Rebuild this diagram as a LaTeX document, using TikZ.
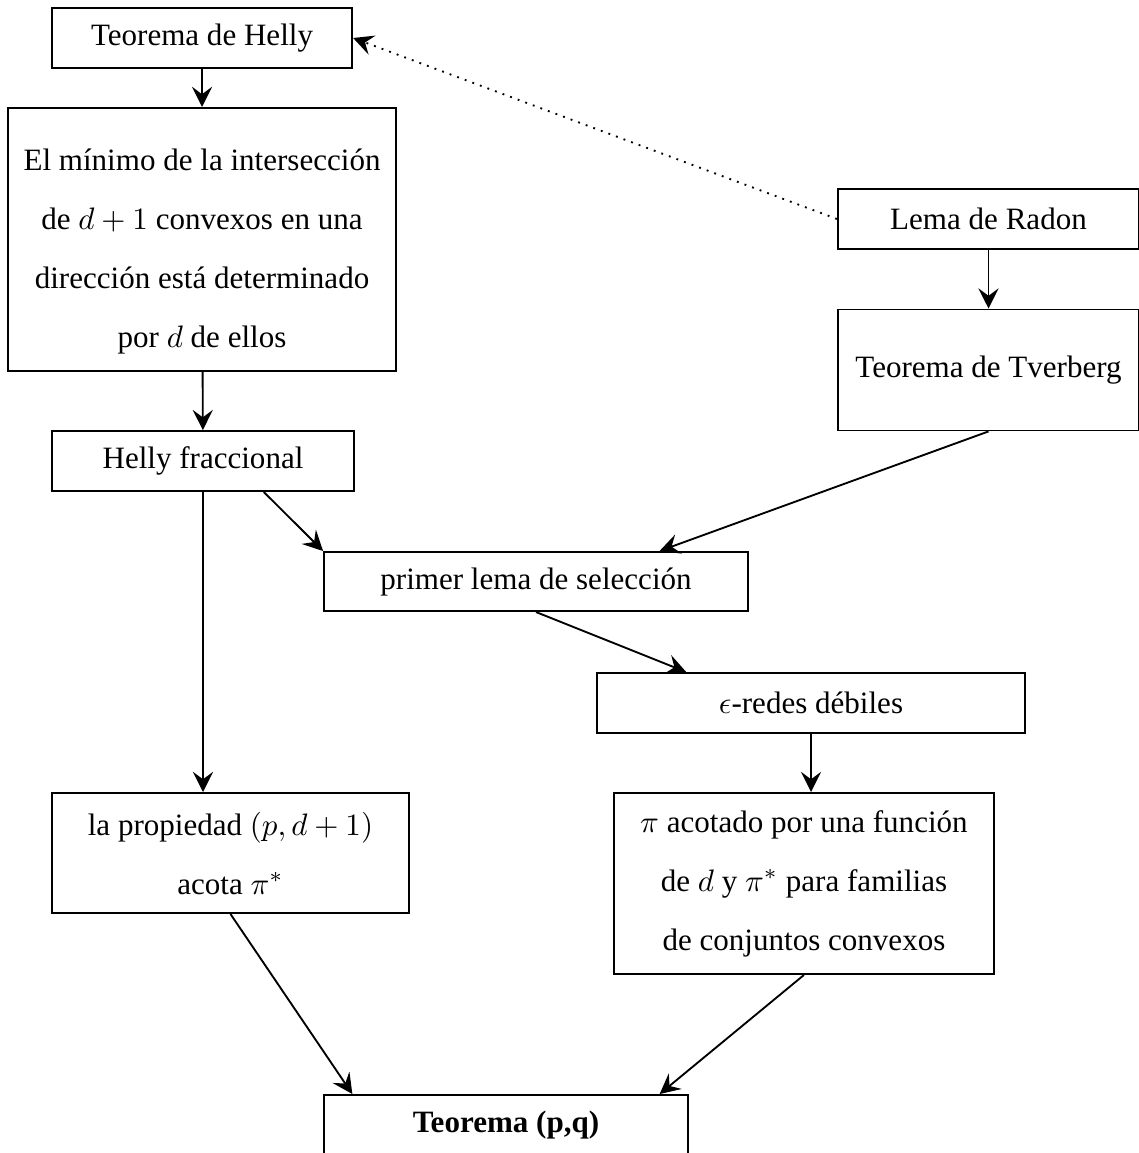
\documentclass[tikz,border=0pt]{standalone}
\usepackage[no-math]{fontspec}
\setmainfont{Liberation Serif}
\usepackage{amsmath, amssymb}
\usetikzlibrary{calc, arrows.meta}

\begin{document}
\begin{tikzpicture}[line width=0.6pt,
  box/.style={draw, rectangle, align=center, font=\fontsize{10pt}{19pt}\selectfont},
  >={Stealth[length=6.5pt, width=6.5pt, inset=2.4pt]}]
\useasboundingbox (0,0) rectangle (12.893,-13.052);
% Left column
\node[box, minimum width=3.40cm, minimum height=0.68cm] (H) at (2.287,-0.430) {Teorema de Helly};
\node[box, minimum width=4.39cm, minimum height=2.98cm] (MIN) at (2.287,-2.711) {\rule{0pt}{15pt}El mínimo de la intersección\\ de $d+1$ convexos en una\\ dirección está determinado\\ por $d$ de ellos};
\node[box, minimum width=3.42cm, minimum height=0.68cm] (HF) at (2.298,-5.219) {Helly fraccional};
\node[box, minimum width=4.04cm, minimum height=1.36cm] (PROP) at (2.609,-9.656) {la propiedad $(p,d+1)$\\ acota $\pi^*$};

% Right column
\node[box, minimum width=3.41cm, minimum height=0.67cm] (R) at (11.19,-2.479) {Lema de Radon};
\node[box, minimum width=3.41cm, minimum height=1.37cm] (TV) at (11.19,-4.188) {Teorema de Tverberg};
\node[box, minimum width=4.80cm, minimum height=0.67cm] (SEL) at (6.068,-6.583) {primer lema de selección};
\node[box, minimum width=4.85cm, minimum height=0.68cm] (EPS) at (9.181,-7.958) {$\epsilon$-redes débiles};
\node[box, minimum width=4.30cm, minimum height=2.05cm] (PI) at (9.101,-10.001) {$\pi$ acotado por una función\\ de $d$ y $\pi^*$ para familias\\ de conjuntos convexos};

\node[box, minimum width=4.12cm, minimum height=0.68cm] (PQ) at (5.728,-12.735) {\textbf{Teorema (p,q)}};

% Draw the implications
\draw[->] (H) -- (MIN);
\draw[->] (MIN) -- (HF);
\draw[->] (HF.south) -- (HF.south |- PROP.north);
\draw[->] ($(HF.south)!0.4!(HF.south east)$) -- (SEL.north west);
\draw[->] (R) -- (TV);
\draw[->] (TV.south) -- ($(SEL.north west)!0.79!(SEL.north east)$);
\draw[->, dotted] (R.west) -- (H.east);
\draw[->] (SEL.south) -- ($(EPS.north west)!0.21!(EPS.north east)$);
\draw[->] (EPS.south) -- (EPS.south |- PI.north);
\draw[->] (PROP.south) -- ($(PQ.north west)!0.08!(PQ.north east)$);
\draw[->] (PI.south) -- ($(PQ.north west)!0.92!(PQ.north east)$);
\end{tikzpicture}
\end{document}
